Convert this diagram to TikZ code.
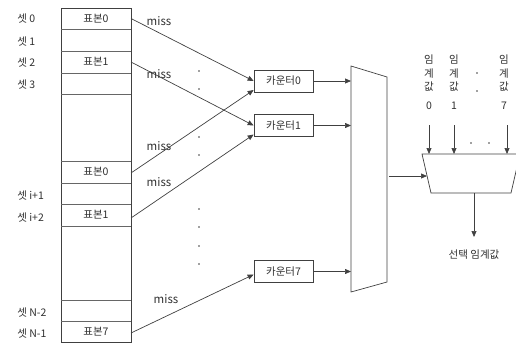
\documentclass[tikz,border=0pt]{standalone}
\usepackage{fontspec}
\setmainfont{Noto Sans CJK KR}
\usetikzlibrary{arrows.meta,positioning,calc}
\definecolor{LineGray}{HTML}{404040}
\definecolor{TextGray}{HTML}{303030}

\begin{document}
\begin{tikzpicture}[x=1pt, y=-1pt, line width=0.7pt,
  font=\fontsize{10.5}{13.5}\selectfont,
  cnt/.style={draw=LineGray, text=TextGray, minimum width=59pt, minimum height=22pt, inner sep=0pt},
  lbl/.style={text=TextGray, inner sep=0pt, anchor=west},
  txt/.style={text=TextGray, inner sep=0pt},
  hit/.style={-{Triangle[length=6pt,width=5pt]}, LineGray}]
\useasboundingbox (0,0) rectangle (516,345);

% Set table
\draw[LineGray] (61,8) rectangle (131,342);
\foreach \y in {29.5,51,73,94,161,183,204,226,300,321}
  \draw[LineGray!80] (61,\y) -- (131,\y);

% Set labels on the left
\foreach \t/\y [count=\k] in {0/19, 1/42, 2/63, 3/85, i+1/196, i+2/218, N-2/313, N-1/334}
  \node[lbl] (set\k) at (17,\y) {셋 \t};

% Samples in the table
\node[txt] (smp0) at (96,18.5) {표본0};
\node[txt] (smp1) at (96,62) {표본1};
\node[txt] (smp2) at (96,172) {표본0};
\node[txt] (smp3) at (96,215) {표본1};
\node[txt] (smp4) at (96,331.5) {표본7};

% Arrow start points on the table edge
\coordinate (s0) at (131,18.5);
\coordinate (s1) at (131,62);
\coordinate (s2) at (131,173);
\coordinate (s3) at (131,218);
\coordinate (s4) at (131,333);

% Counters
\node[cnt] (cnt0) at (283.5,81) {카운터0};
\node[cnt] (cnt1) at (283.5,125.5) {카운터1};
\node[cnt] (cnt7) at (283.5,271.5) {카운터7};

% miss arrows
\draw[hit] (s0) -- (cnt0.west);
\draw[hit] (s1) -- (cnt1.west);
\draw[hit] (s2) -- ([yshift=-9pt]cnt0.west);
\draw[hit] (s3) -- ([yshift=-9pt]cnt1.west);
\draw[hit] (s4) -- ([yshift=-3pt]cnt7.west);

\node[txt, font=\fontsize{11.5}{12}\selectfont] (miss0) at (159,21) {miss};
\node[txt, font=\fontsize{11.5}{12}\selectfont] (miss1) at (159,74) {miss};
\node[txt, font=\fontsize{11.5}{12}\selectfont] (miss2) at (159,146) {miss};
\node[txt, font=\fontsize{11.5}{12}\selectfont] (miss3) at (159,182) {miss};
\node[txt, font=\fontsize{11.5}{12}\selectfont] (miss4) at (166,299) {miss};

% Dots between counters
\foreach \y in {71,89,137,155,209,227,246,264}
  \fill[LineGray] (199,\y) circle (0.9pt);

% Big selector
\draw[LineGray] (351,66) -- (387,77) -- (387,282) -- (351,292) -- cycle;
\coordinate (muxL) at (351,0);
\coordinate (muxout) at (389,176);
\draw[hit] (cnt0.east) -- (cnt0.east -| muxL);
\draw[hit] (cnt1.east) -- (cnt1.east -| muxL);
\draw[hit] (cnt7.east) -- (cnt7.east -| muxL);

% Threshold selector
\draw[LineGray] (422,154) -- (520,154) -- (511,193) -- (431,193) -- cycle;
\coordinate (selL) at (427,176);
\coordinate (selB) at (474,193);
\draw[hit] (muxout) -- (selL);

% Thresholds
\node[txt, align=center] (thr0) at (429,82) {임\\계\\값\\[5pt]0};
\node[txt, align=center] (thr1) at (454,82) {임\\계\\값\\[5pt]1};
\node[txt, align=center] (thr7) at (504,82) {임\\계\\값\\[5pt]7};
\foreach \x in {429,454,507}
  \draw[hit] (\x,125) -- (\x,154);
\foreach \p in {(477,73),(477,91),(471,143),(489,143)}
  \fill[LineGray] \p circle (0.9pt);

% Output
\node[txt] (selout) at (474,255) {선택 임계값};
\draw[hit] (selB) -- ++(0,44);
\end{tikzpicture}
\end{document}
